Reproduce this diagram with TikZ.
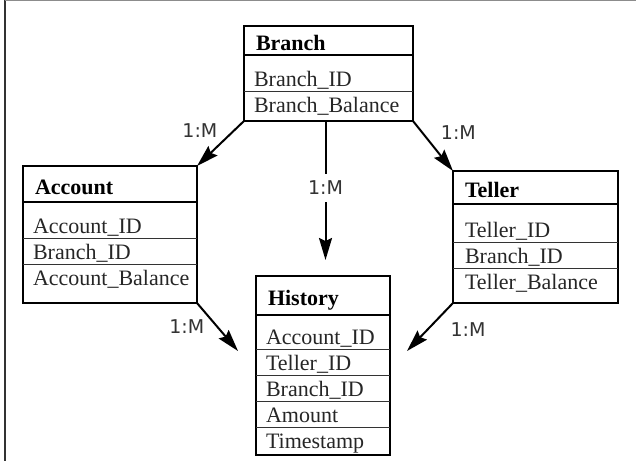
\documentclass[tikz,border=0pt]{standalone}
\usepackage{fontspec}
\setmainfont{Liberation Serif}
\newfontfamily\cardfont{DejaVu Sans}
\usetikzlibrary{positioning,arrows.meta}
\tikzset{head/.style={draw,line width=2pt,anchor=north west,outer sep=0pt,inner xsep=12pt,inner ysep=0pt,text width=#1,align=left,text height=20pt,text depth=0pt,font=\fontsize{22}{24}\selectfont\bfseries}}
\tikzset{box/.style={draw,line width=2.2pt,outer sep=0pt,inner sep=0pt,minimum width=#1}}
\tikzset{field/.style={anchor=north west,outer sep=0pt,inner xsep=10pt,inner ysep=0pt,minimum height=26pt,text height=18pt,text depth=2pt,text=black!85,font=\fontsize{22}{24}\selectfont}}
\tikzset{rule/.style={line width=0.9pt,black!80}}
\tikzset{link/.style={line width=2pt,-{Stealth[length=22pt,width=13pt,inset=3pt]}}}
\tikzset{card/.style={text=black!80,font=\cardfont\fontsize{19}{21}\selectfont}}

\begin{document}
\begin{tikzpicture}[x=1pt,y=-1pt]
\useasboundingbox (0,0) rectangle (636,461);
%\draw[help lines] (0,0) grid[step=50] (636,461);
\draw[black!80,line width=1.5pt] (5,0) -- (5,461);
\draw[black!45,line width=1.2pt] (5,0.6) -- (636,0.6);

% Branch
\node[head=145pt,minimum height=29pt] (branch) at (244,26) {Branch};
\node[box=169pt,minimum height=66pt] (branch box) [below=0pt of branch] {};
\node[field] (branch id) at ([yshift=-10pt]branch box.north west) {Branch\_ID};
\node[field] (branch bal) at (branch id.south west) {Branch\_Balance};
\draw[rule] (branch id.south west) -- (branch id.south -| branch box.east);

% Account
\node[head=150pt,minimum height=36pt] (account) at (23,166) {Account};
\node[box=174pt,minimum height=101pt] (account box) [below=0pt of account] {};
\node[field] (account id) at ([yshift=-10pt]account box.north west) {Account\_ID};
\node[field] (account br) at (account id.south west) {Branch\_ID};
\node[field] (account bal) at (account br.south west) {Account\_Balance};
\draw[rule] (account id.south west) -- (account id.south -| account box.east);
\draw[rule] (account br.south west) -- (account br.south -| account box.east);

% Teller
\node[head=141pt,minimum height=33pt] (teller) at (453,171) {Teller};
\node[box=165pt,minimum height=99pt] (teller box) [below=0pt of teller] {};
\node[field] (teller id) at ([xshift=2pt,yshift=-12pt]teller box.north west) {Teller\_ID};
\node[field] (teller br) at (teller id.south west) {Branch\_ID};
\node[field] (teller bal) at (teller br.south west) {Teller\_Balance};
\draw[rule] (teller id.south -| teller box.west) -- (teller id.south -| teller box.east);
\draw[rule] (teller br.south -| teller box.west) -- (teller br.south -| teller box.east);

% History
\node[head=110pt,minimum height=39pt] (history) at (256,276) {History};
\node[box=134pt,minimum height=140pt] (history box) [below=0pt of history] {};
\node[field] (history acc) at ([yshift=-8pt]history box.north west) {Account\_ID};
\node[field] (history tel) at (history acc.south west) {Teller\_ID};
\node[field] (history br) at (history tel.south west) {Branch\_ID};
\node[field] (history amt) at (history br.south west) {Amount};
\node[field] (history ts) at (history amt.south west) {Timestamp};
\foreach \r in {acc,tel,br,amt}
  \draw[rule] (history \r.south west) -- (history \r.south -| history box.east);

% Cardinalities
\coordinate (mid tip) at (325.5,260);
\coordinate (acc tip) at (238,351);
\coordinate (tel tip) at (407,351);

\draw[link] (branch box.south west) -- node[card,pos=0.22,left=12pt] {1:M} (account.north east);
\draw[link] (branch box.south east) -- node[card,pos=0.24,right=14pt] {1:M} (teller.north west);
\draw[link] (mid tip |- branch box.south) -- node[card,pos=0.48,fill=white,inner ysep=7pt] {1:M} (mid tip);
\draw[link] (account box.south east) -- node[card,pos=0.5,left=9pt] {1:M} (acc tip);
\draw[link] (teller box.south west) -- node[card,pos=0.56,right=19pt] {1:M} (tel tip);
\end{tikzpicture}
\end{document}
